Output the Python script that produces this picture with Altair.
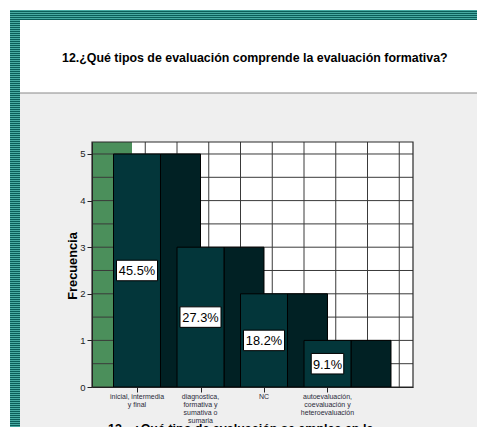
import altair as alt
import pandas as pd

# ---------------- data ----------------
categories = [
    "inicial, intermedia\ny final",
    "diagnostica,\nformativa y\nsumativa o\nsumaria",
    "NC",
    "autoevaluación,\ncoevaluación y\nheteroevaluación",
]
counts = [5, 3, 2, 1]
percents = ["45.5%", "27.3%", "18.2%", "9.1%"]
y_ticks = [0, 1, 2, 3, 4, 5]
h_grid = [0.5, 1.0, 1.5, 2.0, 2.5, 3.0, 3.5, 4.0, 4.5, 5.0]
v_grid = [0.13, 0.63, 1.13, 1.63, 2.13, 2.63, 3.13, 3.63, 4.13]
title_text = "12.¿Qué tipos de evaluación comprende la evaluación formativa?"
y_title = "Frecuencia"
next_title = "13.- ¿Qué tipo de evaluación se emplea en la"

df = pd.DataFrame({"idx": list(range(len(categories))), "cat": categories,
                   "count": counts, "pct": percents})
hg = pd.DataFrame({"v": h_grid})
vg = pd.DataFrame({"v": v_grid})
one = pd.DataFrame({"k": [0]})

# ---------------- geometry / style ----------------
W, H = 321, 245
X = alt.Scale(domain=[-0.7087, 4.3465], nice=False, zero=False)
Y = alt.Scale(domain=[0, 5.2575], nice=False, zero=False)
FONT = "Liberation Sans, Arial"
DARK = "#222222"

AX = alt.Axis(values=[0, 1, 2, 3], labels=False, title=None, grid=False, tickSize=5,
              domainColor=DARK, tickColor=DARK, zindex=1)
AY = alt.Axis(values=y_ticks, title=None, grid=False, tickSize=5, labelFontSize=9.5,
              labelFont=FONT, labelColor=DARK, domainColor=DARK, tickColor=DARK,
              labelPadding=2, zindex=1, format="d")


def stripes(n_px, period=2.0, c1="#47aaa2", c2="#0b5d59"):
    n = int(n_px / period)
    stops = []
    for k in range(n):
        a, m, b = k / n, (k + 0.5) / n, (k + 1) / n
        stops += [alt.GradientStop(offset=a, color=c1), alt.GradientStop(offset=m, color=c1),
                  alt.GradientStop(offset=m, color=c2), alt.GradientStop(offset=b, color=c2)]
    return alt.Gradient(gradient="linear", stops=stops, x1=0, x2=0, y1=0, y2=1)


def box(x1, x2, y1, y2, **kw):
    return alt.Chart(one).mark_rect(**kw).encode(
        x=alt.value(x1), x2=alt.value(x2), y=alt.value(y1), y2=alt.value(y2))


grey_bg = box(-72, 400, -49, 300, fill="#efefef")
header = box(-72, 400, -122, -49, fill="#ffffff")
header_line = alt.Chart(one).mark_rule(color="#8a8a8a", strokeWidth=1.2).encode(
    x=alt.value(-72), x2=alt.value(400), y=alt.value(-49))
top_stripe = box(-82, 400, -132, -122, fill=stripes(10))
left_stripe = box(-82, -72, -132, 296, fill=stripes(428))
plot_bg = box(0, W, 0, H, fill="#ffffff")
wall = box(0, 40, 0, H, fill="#4b8f5b")

hgrid = alt.Chart(hg).mark_rule(color="#3a3a3a", strokeWidth=1).encode(
    y=alt.Y("v:Q", scale=Y, axis=AY), x=alt.value(0), x2=alt.value(W))
vgrid = alt.Chart(vg).mark_rule(color="#3a3a3a", strokeWidth=1).encode(
    x=alt.X("v:Q", scale=X, axis=AX), y=alt.value(0), y2=alt.value(H))
border = box(0, W, 0, H, fillOpacity=0, stroke="#2a2a2a", strokeWidth=1.2)

base = alt.Chart(df).transform_calculate(
    zero="0",
    fx1="datum.idx - 0.37", fx2="datum.idx + 0.37",
    sx2="datum.idx + 1.0",
    mid="datum.count / 2",
    hw="(8.5 * length(datum.pct) - 1.5) / 2 / 63.5",
    bx1="datum.idx - datum.hw", bx2="datum.idx + datum.hw",
    by1="datum.count / 2 - 0.22", by2="datum.count / 2 + 0.22",
)

sides = base.mark_rect(fill="#012124", stroke="#000000", strokeWidth=1).encode(
    x=alt.X("fx2:Q", scale=X, axis=AX), x2="sx2:Q",
    y=alt.Y("count:Q", scale=Y, axis=AY), y2="zero:Q")
fronts = base.mark_rect(fill="#03363a", stroke="#000000", strokeWidth=1).encode(
    x=alt.X("fx1:Q", scale=X, axis=AX), x2="fx2:Q",
    y=alt.Y("count:Q", scale=Y, axis=AY), y2="zero:Q")
lbl_box = base.mark_rect(fill="#ffffff", stroke="#000000", strokeWidth=1).encode(
    x=alt.X("bx1:Q", scale=X, axis=AX), x2="bx2:Q",
    y=alt.Y("by1:Q", scale=Y, axis=AY), y2="by2:Q")
lbl_text = base.mark_text(font=FONT, fontSize=12.8, color="#000000", baseline="middle",
                          dy=1).encode(
    x=alt.X("idx:Q", scale=X, axis=AX), y=alt.Y("mid:Q", scale=Y, axis=AY), text="pct:N")

xlabels = base.mark_text(font=FONT, fontSize=7, lineHeight=8, color="#2a2a3a",
                         baseline="top", lineBreak="\n", align="center").encode(
    x=alt.X("idx:Q", scale=X, axis=AX), y=alt.value(251), text="cat:N")

ytitle = alt.Chart(one).mark_text(font=FONT, fontSize=12.8, fontWeight="bold", angle=270,
                                  align="center", baseline="middle", color="#000000").encode(
    x=alt.value(-19), y=alt.value(124), text=alt.value(y_title))
title = alt.Chart(one).mark_text(font=FONT, fontSize=12.4, fontWeight="bold", align="left",
                                 baseline="middle", color="#000000").encode(
    x=alt.value(-30), y=alt.value(-84), text=alt.value(title_text))
nxt = alt.Chart(one).mark_text(font=FONT, fontSize=12.5, fontWeight="bold", align="left",
                               baseline="top", color="#000000").encode(
    x=alt.value(16), y=alt.value(281), text=alt.value(next_title))

chart = alt.layer(
    grey_bg, header, header_line, top_stripe, left_stripe, plot_bg, wall,
    hgrid, vgrid, border, sides, fronts, lbl_box, lbl_text, xlabels, ytitle, title, nxt,
).properties(
    width=W, height=H,
    autosize=alt.AutoSizeParams(type="none"),
    padding={"left": 84, "top": 134, "right": 64, "bottom": 40},
    background="#ffffff",
).configure_view(stroke=None)

chart.save("out.html", embed_options={"renderer": "svg", "actions": False})
